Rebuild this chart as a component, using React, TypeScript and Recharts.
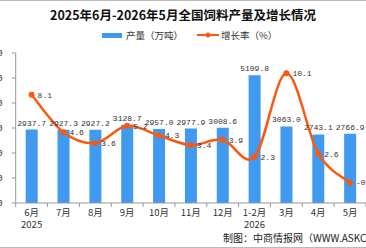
import { ComposedChart, Bar, Line, XAxis, YAxis, LabelList } from 'recharts';

const months = ['6月', '7月', '8月', '9月', '10月', '11月', '12月', '1-2月', '3月', '4月', '5月'];
const years = ['2025', '', '', '', '', '', '', '2026', '', '', ''];
const output = [2937.7, 2927.3, 2927.2, 3128.7, 2957.0, 2977.9, 3008.6, 5109.8, 3063.0, 2743.1, 2766.9];
const growth = [8.1, 4.6, 3.6, 5.2, 4.3, 3.4, 3.9, 2.3, 10.1, 2.6, -0.1];
const outputTicks = [0, 1000, 2000, 3000, 4000, 5000, 6000];

const data = months.map((m, i) => ({ month: m, year: years[i], output: output[i], growth: growth[i] }));

const CHART_W = 406;
const CHART_H = 248;
const LEFT_AXIS_W = 55.7;
const halfBand = (CHART_W - LEFT_AXIS_W) / months.length / 2;

const BLUE = '#3f9af0';
const ORANGE = '#fa5a0f';
const CJK = '"Noto Sans CJK SC", "Noto Sans", sans-serif';
const MONO = '"Liberation Mono", "DejaVu Sans Mono", monospace';

// Catmull-Rom style smoothing, passes through every point with slight overshoot
const smoothCurve = (context: any) => {
  let pts: [number, number][] = [];
  return {
    areaStart() {},
    areaEnd() {},
    lineStart() {
      pts = [];
    },
    point(x: number, y: number) {
      pts.push([+x, +y]);
    },
    lineEnd() {
      if (!pts.length) return;
      context.moveTo(pts[0][0], pts[0][1]);
      for (let i = 0; i < pts.length - 1; i++) {
        const p0 = pts[i - 1] || pts[i];
        const p1 = pts[i];
        const p2 = pts[i + 1];
        const p3 = pts[i + 2] || p2;
        context.bezierCurveTo(
          p1[0] + (p2[0] - p0[0]) / 6,
          p1[1] + (p2[1] - p0[1]) / 6,
          p2[0] - (p3[0] - p1[0]) / 6,
          p2[1] - (p3[1] - p1[1]) / 6,
          p2[0],
          p2[1]
        );
      }
    },
  };
};

function MonthTick(props: any) {
  const { x, y, payload } = props;
  const i = payload.index;
  const last = i === months.length - 1;
  return (
    <g>
      <line x1={x - halfBand} x2={x - halfBand} y1={y} y2={y + 4} stroke="#999" />
      {last && <line x1={x + halfBand} x2={x + halfBand} y1={y} y2={y + 4} stroke="#999" />}
      <text x={x} y={y + 13} textAnchor="middle" fontSize={9.5} fill="#333" fontFamily={CJK}>
        {months[i]}
      </text>
      {years[i] && (
        <text x={x} y={y + 24.5} textAnchor="middle" fontSize={9.5} fill="#333" fontFamily={CJK}>
          {years[i]}
        </text>
      )}
    </g>
  );
}

export default function App() {
  return (
    <div
      style={{
        position: 'absolute',
        left: 0,
        top: 0,
        width: 366,
        height: 248,
        overflow: 'hidden',
        background: '#fff',
        fontFamily: CJK,
      }}
    >
      <div style={{ position: 'absolute', left: 0, top: 0, width: 366, height: 1, background: '#bbb' }} />
      <div style={{ position: 'absolute', left: 0, top: 247, width: 366, height: 1, background: '#bbb' }} />
      <div
        style={{
          position: 'absolute',
          top: 5,
          left: 0,
          width: 366,
          textAlign: 'center',
          fontSize: 12.5,
          fontWeight: 'bold',
          color: '#111',
          whiteSpace: 'nowrap',
        }}
      >
        2025年6月-2026年5月全国饲料产量及增长情况
      </div>
      <div style={{ position: 'absolute', top: 28, left: 102, fontSize: 9.5, color: '#333', whiteSpace: 'nowrap', display: 'flex', alignItems: 'center' }}>
        <span style={{ display: 'inline-block', width: 20, height: 5, background: BLUE, marginRight: 4 }} />
        <span>产量（万吨）</span>
        <svg width={22} height={8} style={{ marginLeft: 14, marginRight: 2 }}>
          <line x1={0} x2={22} y1={4} y2={4} stroke={ORANGE} strokeWidth={2} />
          <circle cx={11} cy={4} r={2.5} fill={ORANGE} />
        </svg>
        <span>增长率（%）</span>
      </div>
      <div style={{ position: 'absolute', left: -40, top: 0 }}>
        <ComposedChart
          width={CHART_W}
          height={CHART_H}
          data={data}
          margin={{ top: 53, right: 0, bottom: 0, left: 0 }}
        >
          <XAxis
            dataKey="month"
            xAxisId="x"
            height={45}
            interval={0}
            tickLine={false}
            tickSize={0}
            tickMargin={0}
            axisLine={{ stroke: '#999' }}
            tick={<MonthTick />}
          />
          <YAxis
            yAxisId="left"
            width={LEFT_AXIS_W}
            domain={[0, 6000]}
            ticks={outputTicks}
            tickSize={4}
            tickMargin={9}
            axisLine={{ stroke: '#999' }}
            tickLine={{ stroke: '#999' }}
            tick={{ fontSize: 9.5, fill: '#333', fontFamily: MONO }}
          />
          <YAxis yAxisId="right" orientation="right" hide domain={[-2, 12]} />
          <Bar
            xAxisId="x"
            yAxisId="left"
            dataKey="output"
            fill={BLUE}
            barSize={12}
            isAnimationActive={false}
          >
            <LabelList
              dataKey="output"
              position="top"
              offset={4}
              formatter={(v: any) => Number(v).toFixed(1)}
              style={{ fontSize: 8, fill: '#333', fontFamily: MONO }}
            />
          </Bar>
          <Line
            xAxisId="x"
            yAxisId="right"
            dataKey="growth"
            type={smoothCurve as any}
            stroke={ORANGE}
            strokeWidth={2.5}
            dot={{ r: 3, fill: ORANGE, stroke: ORANGE, strokeWidth: 0 }}
            activeDot={false}
            isAnimationActive={false}
          >
            <LabelList
              dataKey="growth"
              position="right"
              offset={6}
              formatter={(v: any) => Number(v).toFixed(1)}
              style={{ fontSize: 8, fill: '#333', fontFamily: MONO }}
            />
          </Line>
        </ComposedChart>
      </div>
      <div
        style={{
          position: 'absolute',
          left: 223,
          top: 230,
          fontSize: 10,
          color: '#222',
          whiteSpace: 'nowrap',
        }}
      >
        制图：中商情报网（WWW.ASKCI.COM）
      </div>
    </div>
  );
}
